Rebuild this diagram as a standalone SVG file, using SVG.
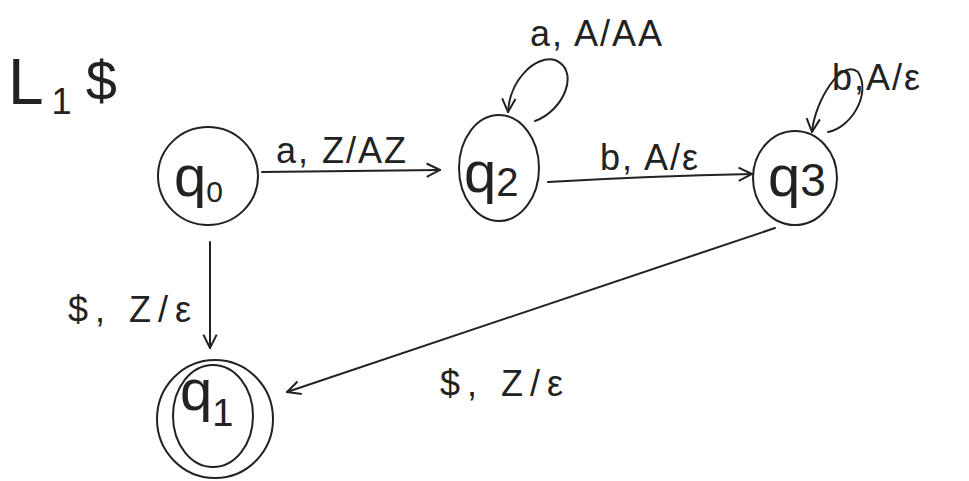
<svg xmlns="http://www.w3.org/2000/svg" width="969" height="481" viewBox="0 0 969 481">
<style>
.s{fill:none;stroke:#222;stroke-width:2;stroke-linecap:round}
.t{font-family:"Liberation Sans",Arial,sans-serif;fill:#222}
.st{font-size:58px}
.lb{font-size:36px;letter-spacing:2px}
.wide{letter-spacing:7px}
</style>
<defs>
<marker id="ah" viewBox="0 0 12 12" refX="11" refY="6" markerWidth="16" markerHeight="16" markerUnits="userSpaceOnUse" orient="auto">
<path d="M1,1 L11,6 L1,11" fill="none" stroke="#222" stroke-width="1.5"/>
</marker>
</defs>
<rect width="969" height="481" fill="#fff"/>
<text class="t" x="8" y="104" font-size="64">L<tspan font-size="36" dy="10" dx="8">1</tspan><tspan font-size="56" dy="-14" dx="14">$</tspan></text>

<g id="q0">
<ellipse class="s" cx="208" cy="176" rx="50" ry="49"/>
<text class="t st" x="174" y="196">q<tspan font-size="30" dy="6">0</tspan></text>
</g>
<g id="q2">
<ellipse class="s" cx="499" cy="168" rx="40" ry="53"/>
<text class="t st" x="464" y="192">q<tspan font-size="40" dy="4">2</tspan></text>
</g>
<g id="q3">
<ellipse class="s" cx="795" cy="178" rx="42" ry="47"/>
<text class="t st" x="768" y="196" font-size="54">q<tspan font-size="46">3</tspan></text>
</g>
<g id="q1">
<ellipse class="s" cx="215" cy="419" rx="58" ry="59"/>
<ellipse class="s" cx="213" cy="416" rx="40" ry="51"/>
<text class="t st" x="180" y="410" font-size="50">q<tspan font-size="38" dy="16">1</tspan></text>
</g>

<g id="connectors">
<path class="s" d="M262,172 L440,170" marker-end="url(#ah)"/>
<path class="s" d="M548,182 Q650,176 752,174" marker-end="url(#ah)"/>
<path class="s" d="M210,242 L210,348" marker-end="url(#ah)"/>
<path class="s" d="M775,228 L287,392" marker-end="url(#ah)"/>
<path class="s" d="M535,121 C565,110 580,70 555,60 C535,55 510,80 508,112" marker-end="url(#ah)"/>
<path class="s" d="M828,132 C850,128 872,95 858,72 C842,58 815,100 812,132" marker-end="url(#ah)"/>
</g>

<g id="labels">
<text class="t lb" x="276" y="163">a, Z/AZ</text>
<text class="t lb" x="600" y="170">b, A/ε</text>
<text class="t lb wide" x="68" y="322">$, Z/ε</text>
<text class="t lb wide" x="440" y="396">$, Z/ε</text>
<text class="t lb" x="530" y="46">a, A/AA</text>
<text class="t lb" x="832" y="90" letter-spacing="1px">b,A/ε</text>
</g>
</svg>
